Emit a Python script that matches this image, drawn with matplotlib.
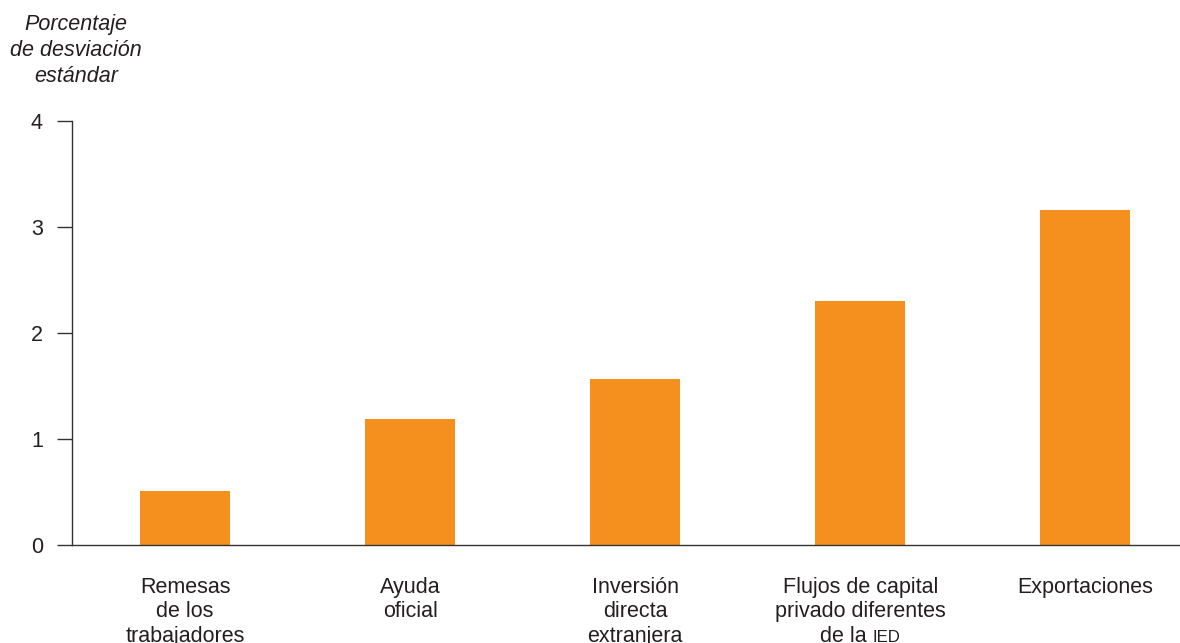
import matplotlib
matplotlib.use("Agg")
import matplotlib.pyplot as plt
from matplotlib.offsetbox import TextArea, HPacker, VPacker, AnnotationBbox

plt.rcParams['font.family'] = ['Liberation Sans', 'DejaVu Sans']

categories = ["Remesas\nde los\ntrabajadores", "Ayuda\noficial",
              "Inversión\ndirecta\nextranjera",
              "Flujos de capital\nprivado diferentes\nde la IED", "Exportaciones"]
values = [0.51, 1.19, 1.57, 2.30, 3.16]
yticks = [0, 1, 2, 3, 4]
ylabel = "Porcentaje\nde desviación\nestándar"

bar_color = "#F5901E"
text_color = "#231F20"
fs = 15.5

fig = plt.figure(figsize=(11.8, 6.43), dpi=100)
ax = fig.add_axes([72/1180, 98/643, 1 - 72/1180, (545-121)/643])

x = list(range(len(values)))
ax.bar(x, values, width=0.4, color=bar_color, zorder=2)
ax.set_xlim(-0.502, 4.42)
ax.set_ylim(0, 4)
ax.set_yticks(yticks)
ax.set_yticklabels([str(t) for t in yticks])
ax.set_xticks([])

for s in ['top', 'right']:
    ax.spines[s].set_visible(False)
for s in ['left', 'bottom']:
    ax.spines[s].set_color("#333333")
    ax.spines[s].set_linewidth(1.0)

ax.tick_params(axis='y', direction='out', length=11, width=1.0, color="#333333",
               pad=10, labelsize=fs, labelcolor=text_color)

# x category labels
for xi, lab in zip(x, categories):
    lines = lab.split("\n")
    rows = []
    for ln in lines:
        if ln.endswith("IED"):
            pre = ln[:-3]
            rows.append(HPacker(children=[
                TextArea(pre, textprops=dict(size=fs, color=text_color)),
                TextArea("IED", textprops=dict(size=fs*0.78, color=text_color))],
                align="baseline", pad=0, sep=0))
        else:
            rows.append(TextArea(ln, textprops=dict(size=fs, color=text_color)))
    box = VPacker(children=rows, align="center", pad=0, sep=2.5)
    ab = AnnotationBbox(box, (xi, 0), xybox=(0, -23), xycoords=('data', 'axes fraction'),
                        boxcoords='offset points', box_alignment=(0.5, 1.0),
                        frameon=False, annotation_clip=False)
    ax.add_artist(ab)

fig.text(76/1180, 1 - 14/643, ylabel, ha='center', va='top', fontsize=fs,
         style='italic', color=text_color, linespacing=1.3)

fig.savefig("out.png", dpi=100)
